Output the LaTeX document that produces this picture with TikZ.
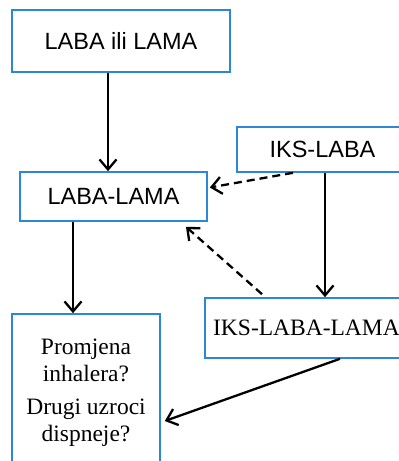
\documentclass[tikz,border=0pt]{standalone}
\usepackage{fontspec}
\setmainfont{Liberation Serif}
\newfontfamily\arialfont{Liberation Sans}
\usepackage{tikz}
\usetikzlibrary{arrows.meta}
\definecolor{boxblue}{RGB}{45,135,215}

\begin{document}
\begin{tikzpicture}[x=1pt,y=-1pt,
  box/.style={draw=boxblue, line width=1.6pt, rectangle, inner sep=0pt, align=center, font=\fontsize{23.5}{27}\selectfont},
  sbox/.style={box, font=\arialfont\fontsize{23.5}{27}\selectfont},
  arr/.style={line width=2.3pt, -{Straight Barb[length=10pt,width=17pt,line width=2.3pt]}},
  darr/.style={arr, dash pattern=on 8pt off 5pt}]

\clip (0,0) rectangle (399,461);
\fill[white] (0,0) rectangle (399,461);

\node[sbox, minimum width=218pt, minimum height=62pt] (lbox) at (121,41) {LABA ili LAMA};
\node[sbox, minimum width=187pt, minimum height=49pt] (lablama) at (113.5,196.5) {LABA-LAMA};
\node[sbox, minimum width=171pt, minimum height=45pt] (iks) at (322.5,149.5) {IKS-LABA};
\node[box, minimum width=203pt, minimum height=60pt] (ikslablama) at (306.5,328) {IKS-LABA-LAMA};
\node[box, minimum width=148pt, minimum height=158pt] (promjena) at (86,393) {Promjena\\inhalera?\\[6pt]Drugi uzroci\\dispneje?};

\draw[arr] ([xshift=-13pt]lbox.south) -- ([xshift=-13pt]lbox.south |- lablama.north);
\draw[arr] ([xshift=-40.5pt]lablama.south) -- ([xshift=-40.5pt]lablama.south |- promjena.north);
\draw[arr] ([xshift=2.5pt]iks.south) -- ([xshift=2.5pt]iks.south |- ikslablama.north);
\draw[darr] ([xshift=-29.5pt]iks.south) -- ([yshift=9pt,xshift=2pt]lablama.east);
\draw[darr] ([xshift=-44.5pt,yshift=3pt]ikslablama.north) -- ([xshift=72.5pt,yshift=-5pt]lablama.south);
\draw[arr] ([xshift=33.5pt]ikslablama.south) -- ([xshift=4pt,yshift=-28pt]promjena.east);

\end{tikzpicture}
\end{document}
